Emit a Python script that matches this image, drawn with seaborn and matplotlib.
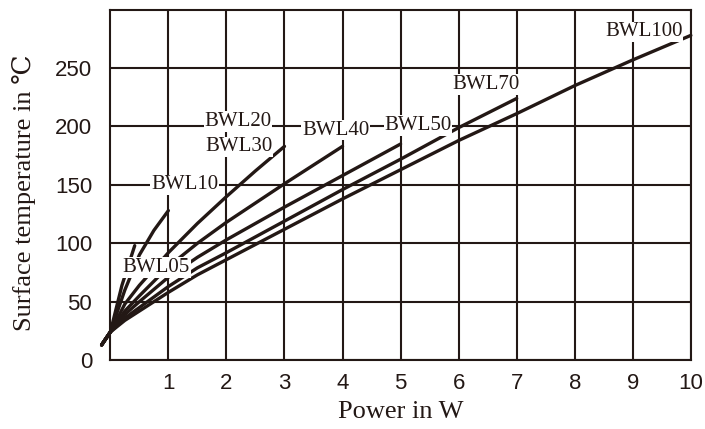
import numpy as np
import pandas as pd
import seaborn as sns
import matplotlib
matplotlib.use("Agg")
import matplotlib.pyplot as plt

# curve data (power in W, surface temperature in C)
bwl05_p = [-0.15, 0, 0.2, 0.42]
bwl05_t = [13, 24, 64, 98]

bwl10_p = [-0.15, 0, 0.25, 0.5, 0.75, 1]
bwl10_t = [13, 24, 60, 90, 111, 128]

bwl30_p = [-0.15, 0, 0.25, 0.5, 1, 1.5, 2, 2.5, 3]
bwl30_t = [13, 24, 48, 64, 92, 117, 140, 162, 183]

bwl40_p = [-0.15, 0, 0.25, 0.5, 1, 1.5, 2, 3, 4]
bwl40_t = [13, 24, 42, 55, 80, 100, 118, 151, 183]

bwl50_p = [-0.15, 0, 0.25, 0.5, 1, 1.5, 2, 3, 4, 5]
bwl50_t = [13, 24, 39, 50, 71, 88, 103, 131, 158, 185]

bwl70_p = [-0.15, 0, 0.25, 0.5, 1, 1.5, 2, 3, 4, 5, 6, 7]
bwl70_t = [13, 24, 36, 45, 63, 79, 92, 119, 146, 172, 199, 224]

bwl100_p = [-0.15, 0, 0.25, 0.5, 1, 1.5, 2, 3, 4, 5, 6, 7, 8, 9, 10]
bwl100_t = [13, 24, 34, 42, 58, 73, 86, 112, 138, 163, 188, 211, 235, 257, 278]

curves = {
    "BWL05": (bwl05_p, bwl05_t),
    "BWL10": (bwl10_p, bwl10_t),
    "BWL20/30": (bwl30_p, bwl30_t),
    "BWL40": (bwl40_p, bwl40_t),
    "BWL50": (bwl50_p, bwl50_t),
    "BWL70": (bwl70_p, bwl70_t),
    "BWL100": (bwl100_p, bwl100_t),
}

# curve labels and where they sit (power, temperature)
label_text = ["BWL05", "BWL10", "BWL20", "BWL30", "BWL40", "BWL50", "BWL70", "BWL100"]
label_p = [0.79, 1.28, 2.2, 2.21, 3.88, 5.30, 6.48, 9.19]
label_t = [79.5, 150, 204, 182.5, 197, 201, 236, 281]

x_ticks = [1, 2, 3, 4, 5, 6, 7, 8, 9, 10]
y_ticks = [0, 50, 100, 150, 200, 250]

rows = []
for name, (p, t) in curves.items():
    for pi, ti in zip(p, t):
        rows.append({"model": name, "power": pi, "temp": ti})
df = pd.DataFrame(rows)

ink = "#231815"
serif = ["Liberation Serif", "DejaVu Serif"]
sans = ["Liberation Sans", "DejaVu Sans"]

sns.set_style("white")

fig = plt.figure(figsize=(7.05, 4.29), dpi=100)
ax = fig.add_axes([0.1565, 0.1606, 0.8234, 0.8168])

ax.set_xlim(0, 10)
ax.set_ylim(0, 300)
ax.set_xticks(x_ticks)
ax.set_yticks(y_ticks)
ax.grid(True, color=ink, linewidth=1.5)
ax.set_axisbelow(True)
for s in ax.spines.values():
    s.set_color(ink)
    s.set_linewidth(1.5)

sns.lineplot(data=df, x="power", y="temp", hue="model",
             palette=[ink] * len(curves), linewidth=2.4, legend=False,
             sort=False, estimator=None, ax=ax, clip_on=False, zorder=3)

for txt, p, t in zip(label_text, label_p, label_t):
    ax.text(p, t, txt, ha="center", va="center", fontsize=15, family=serif,
            color=ink, zorder=4,
            bbox=dict(facecolor="white", edgecolor="none", pad=0.6))

ax.tick_params(axis="both", length=0, labelsize=16, colors=ink)
ax.tick_params(axis="x", pad=9)
ax.tick_params(axis="y", pad=13)
for lab in ax.get_xticklabels() + ax.get_yticklabels():
    lab.set_family(sans)

ax.set_xlabel("Power in W", fontsize=19, family=serif, color=ink)
ax.set_ylabel("Surface temperature in ℃", fontsize=19, family=serif, color=ink)
ax.xaxis.set_label_coords(0.5, -0.118)
ax.yaxis.set_label_coords(-0.128, 0.478)

fig.savefig("out.png", dpi=100)
